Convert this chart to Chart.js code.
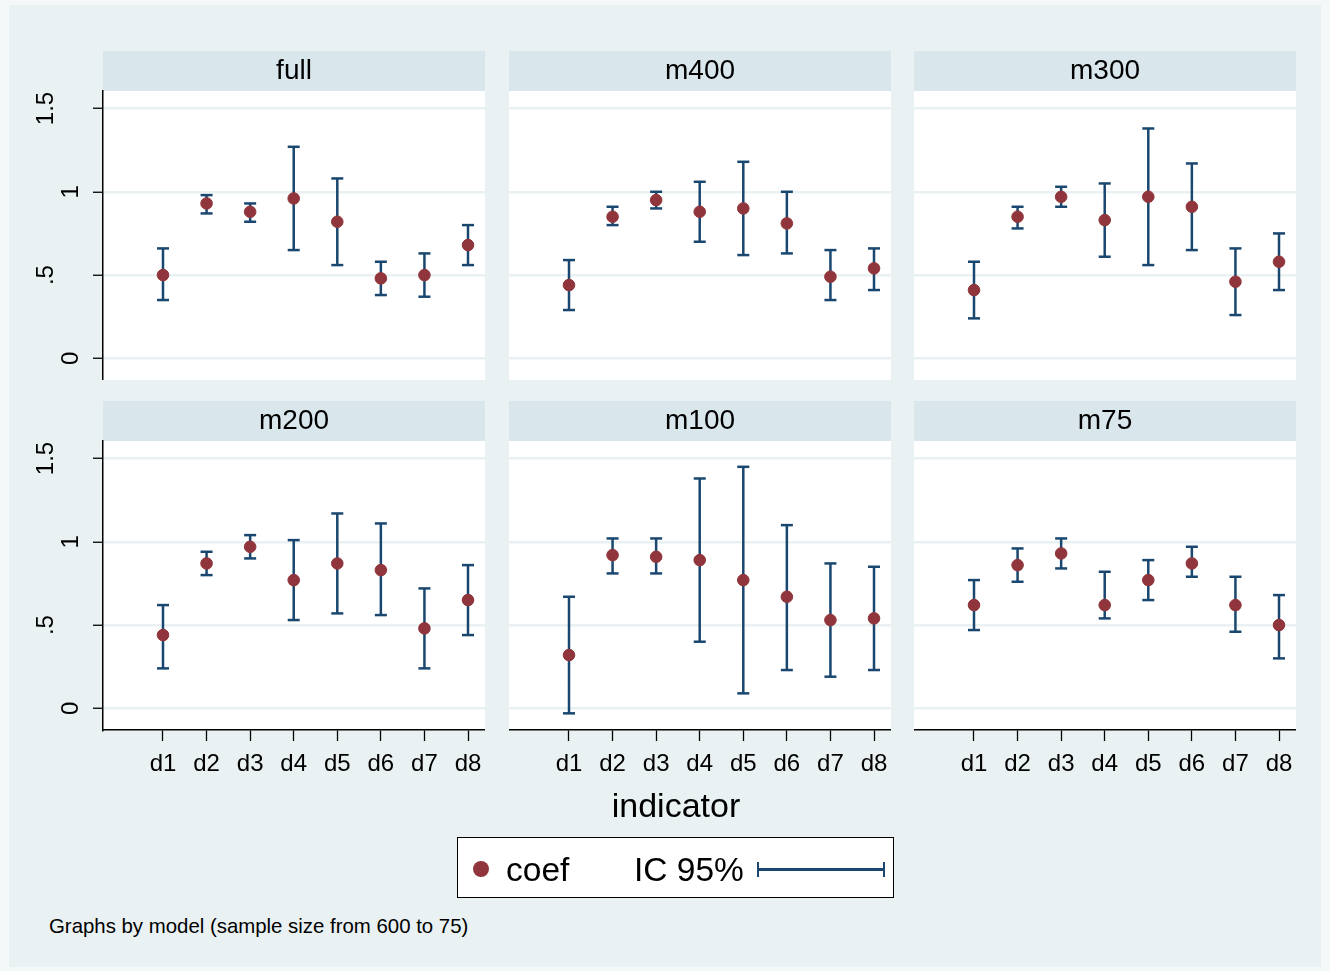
<!DOCTYPE html>
<html>
<head>
<meta charset="utf-8">
<script src="https://cdn.jsdelivr.net/npm/chart.js@4.4.1/dist/chart.umd.min.js"></script>
<style>
    body { margin: 0; background: #f5f8f9; font-family: "Liberation Sans", Arial, sans-serif; }
    #frame { position: absolute; left: 9px; top: 5px; width: 1312px; height: 962px; background: #eaf1f3; }
    canvas { position: absolute; }
    .txt { position: absolute; color: #000; white-space: nowrap; }
    #xtitle { left: 476px; top: 788px; width: 400px; text-align: center; font-size: 34px; line-height: 34px; }
    #legend { position: absolute; left: 457px; top: 837px; width: 437px; height: 61px; box-sizing: border-box;
              border: 1.5px solid #000; background: #fff; }
    #legend .dot { position: absolute; left: 15px; top: 23px; width: 16px; height: 16px; border-radius: 50%; background: #90353b; }
    #legend .lbl { position: absolute; top: 15px; font-size: 33.5px; line-height: 33px; }
    #legend .bar { position: absolute; left: 299px; top: 24px; width: 128px; height: 15px; box-sizing: border-box;
                   border-left: 2.5px solid #1a476f; border-right: 2.5px solid #1a476f; }
    #legend .bar::after { content: ""; position: absolute; left: 0; right: 0; top: 6px; height: 2.5px; background: #1a476f; }
    #note { left: 49px; top: 916px; font-size: 20.4px; line-height: 20px; }
</style>
</head>
<body>
<div id="frame"></div>
<div id="panels"></div>
<div id="xtitle" class="txt">indicator</div>
<div id="legend">
    <span class="dot"></span>
    <span class="lbl" style="left:48px">coef</span>
    <span class="lbl" style="left:176px">IC 95%</span>
    <span class="bar"></span>
</div>
<div id="note" class="txt">Graphs by model (sample size from 600 to 75)</div>
<script>
const indicators = ["d1", "d2", "d3", "d4", "d5", "d6", "d7", "d8"]
const models = ["full", "m400", "m300", "m200", "m100", "m75"]
const yTicks = [0, 0.5, 1, 1.5]

// point estimates and 95% bounds, read per model
const fullCoef = [0.50, 0.93, 0.88, 0.96, 0.82, 0.48, 0.50, 0.68]
const fullLo   = [0.35, 0.87, 0.82, 0.65, 0.56, 0.38, 0.37, 0.56]
const fullHi   = [0.66, 0.98, 0.93, 1.27, 1.08, 0.58, 0.63, 0.80]

const m400Coef = [0.44, 0.85, 0.95, 0.88, 0.90, 0.81, 0.49, 0.54]
const m400Lo   = [0.29, 0.80, 0.90, 0.70, 0.62, 0.63, 0.35, 0.41]
const m400Hi   = [0.59, 0.91, 1.00, 1.06, 1.18, 1.00, 0.65, 0.66]

const m300Coef = [0.41, 0.85, 0.97, 0.83, 0.97, 0.91, 0.46, 0.58]
const m300Lo   = [0.24, 0.78, 0.91, 0.61, 0.56, 0.65, 0.26, 0.41]
const m300Hi   = [0.58, 0.91, 1.03, 1.05, 1.38, 1.17, 0.66, 0.75]

const m200Coef = [0.44, 0.87, 0.97, 0.77, 0.87, 0.83, 0.48, 0.65]
const m200Lo   = [0.24, 0.80, 0.90, 0.53, 0.57, 0.56, 0.24, 0.44]
const m200Hi   = [0.62, 0.94, 1.04, 1.01, 1.17, 1.11, 0.72, 0.86]

const m100Coef = [0.32, 0.92, 0.91, 0.89, 0.77, 0.67, 0.53, 0.54]
const m100Lo   = [-0.03, 0.81, 0.81, 0.40, 0.09, 0.23, 0.19, 0.23]
const m100Hi   = [0.67, 1.02, 1.02, 1.38, 1.45, 1.10, 0.87, 0.85]

const m75Coef  = [0.62, 0.86, 0.93, 0.62, 0.77, 0.87, 0.62, 0.50]
const m75Lo    = [0.47, 0.76, 0.84, 0.54, 0.65, 0.79, 0.46, 0.30]
const m75Hi    = [0.77, 0.96, 1.02, 0.82, 0.89, 0.97, 0.79, 0.68]

const panelData = {
    full: [fullCoef, fullLo, fullHi],
    m400: [m400Coef, m400Lo, m400Hi],
    m300: [m300Coef, m300Lo, m300Hi],
    m200: [m200Coef, m200Lo, m200Hi],
    m100: [m100Coef, m100Lo, m100Hi],
    m75:  [m75Coef, m75Lo, m75Hi],
}

const navy = "#1a476f"
const maroon = "#90353b"
const stripColor = "#d9e6eb"
const gridColor = "#eaf1f3"

const colLeft = [103, 509, 914]
const rowTop = [51, 401]
const plotW = 382
const plotH = 289
const stripH = 40
const yAxisW = 90
const xAxisH = 60

Chart.defaults.font.family = '"Liberation Sans", Arial, sans-serif'
Chart.defaults.color = "#000"

const panelBackground = {
    id: "panelBackground",
    beforeDraw(chart) {
        const {ctx, chartArea: a} = chart
        ctx.save()
        ctx.fillStyle = stripColor
        ctx.fillRect(a.left, a.top - stripH, a.right - a.left, stripH)
        ctx.fillStyle = "#fff"
        ctx.fillRect(a.left, a.top, a.right - a.left, a.bottom - a.top)
        ctx.restore()
    }
}

function errorBarPoints(lo, hi)
{
    const pts = []
    lo.forEach((l, i) =>
    {
        pts.push({x: i + 1, y: l}, {x: i + 1, y: hi[i]}, {x: i + 1, y: null})
    })
    return pts
}

function yLabel(v)
{
    const s = v == 0 ? "0" : String(v).replace(/^0\./, ".")
    // two-line label shifts the rotated text sideways, like Stata's placement
    return Number.isInteger(v) ? ["", s] : [s, ""]
}

const container = document.getElementById("panels")

models.forEach((name, k) =>
{
    const row = Math.floor(k / 3)
    const col = k % 3
    const hasY = col == 0
    const hasX = row == 1
    const [coef, lo, hi] = panelData[name]

    const canvas = document.createElement("canvas")
    const w = plotW + (hasY ? yAxisW : 0)
    const h = stripH + plotH + (hasX ? xAxisH : 0)
    canvas.width = w
    canvas.height = h
    canvas.style.left = (colLeft[col] - (hasY ? yAxisW : 0)) + "px"
    canvas.style.top = rowTop[row] + "px"
    container.appendChild(canvas)

    new Chart(canvas, {
        type: "scatter",
        data: {
            datasets: [
                {
                    label: "coef",
                    data: coef.map((c, i) => ({x: i + 1, y: c})),
                    pointRadius: 5.8,
                    pointBackgroundColor: maroon,
                    pointBorderColor: maroon,
                    pointBorderWidth: 1,
                },
                {
                    label: "IC 95%",
                    data: errorBarPoints(lo, hi),
                    showLine: true,
                    spanGaps: false,
                    borderColor: navy,
                    borderWidth: 2.5,
                    pointStyle: "line",
                    pointRadius: 6,
                    pointBorderColor: navy,
                    pointBorderWidth: 2.5,
                },
            ],
        },
        options: {
            responsive: false,
            animation: false,
            devicePixelRatio: 1,
            layout: { padding: 0, autoPadding: false },
            scales: {
                x: {
                    type: "linear",
                    min: -0.377,
                    max: 8.39,
                    display: hasX,
                    afterBuildTicks: s => { s.ticks = indicators.map((d, i) => ({value: i + 1})) },
                    afterFit: s => { s.height = hasX ? xAxisH : 0; s.paddingLeft = 0; s.paddingRight = 0 },
                    grid: { drawOnChartArea: false, drawTicks: true, tickLength: 11, tickColor: "#000", tickWidth: 1.3 },
                    border: { display: true, color: "#000", width: 1.5 },
                    ticks: {
                        autoSkip: false,
                        maxRotation: 0,
                        padding: 9,
                        font: { size: 24, lineHeight: 1.2 },
                        callback: v => indicators[v - 1] ?? "",
                    },
                },
                y: {
                    min: -0.13,
                    max: 1.605,
                    afterBuildTicks: s => { s.ticks = yTicks.map(v => ({value: v})) },
                    afterFit: s => { s.width = hasY ? yAxisW : 0; s.paddingTop = 0; s.paddingBottom = 0 },
                    grid: { color: gridColor, lineWidth: 2.5, drawTicks: hasY, tickLength: 10, tickColor: "#000", tickWidth: 1.3 },
                    border: { display: hasY, color: "#000", width: 1.5 },
                    ticks: {
                        display: hasY,
                        autoSkip: false,
                        minRotation: 90,
                        maxRotation: 90,
                        crossAlign: "center",
                        padding: 17.3,
                        font: { size: 24, lineHeight: 25 / 24 },
                        callback: yLabel,
                    },
                },
            },
            plugins: {
                legend: { display: false },
                tooltip: { enabled: false },
                title: {
                    display: true,
                    text: name,
                    fullSize: false,
                    color: "#000",
                    font: { size: 28, weight: "normal", lineHeight: 1.2 },
                    padding: { top: 3.5, bottom: 2.9 },
                },
            },
        },
        plugins: [panelBackground],
    })
})
</script>
</body>
</html>
